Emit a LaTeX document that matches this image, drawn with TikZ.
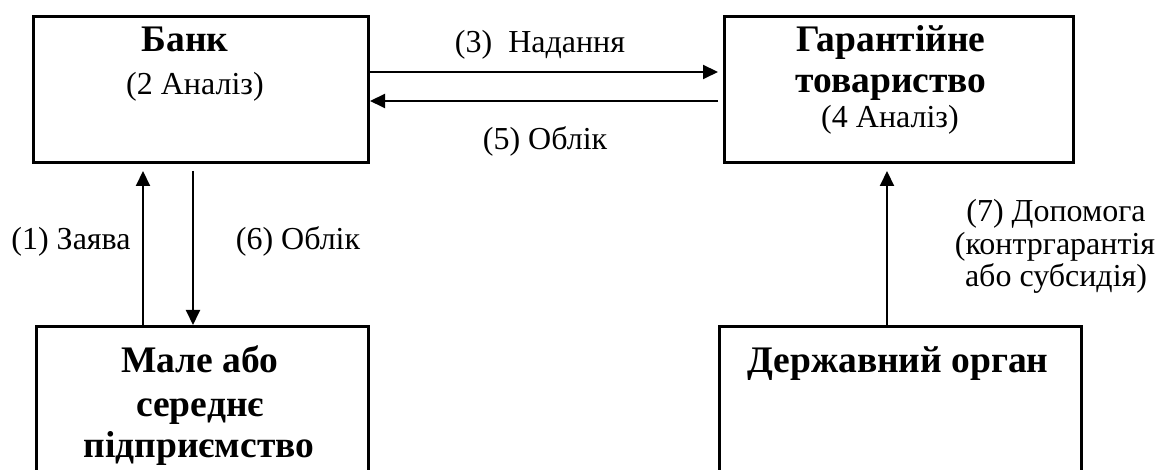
\documentclass[tikz,border=0pt]{standalone}
\usepackage{fontspec}
\setmainfont{Liberation Serif}
\usetikzlibrary{arrows.meta}
\tikzset{
  box/.style={draw, line width=1.2pt, rectangle, anchor=north west, inner sep=0pt},
  ttl/.style={anchor=base, inner sep=0pt, font=\fontsize{15}{17}\selectfont\bfseries},
  txt/.style={anchor=base, inner sep=0pt, font=\fontsize{12.8}{14}\selectfont},
  arr/.style={line width=0.8pt, -{Triangle[length=6pt,width=5.6pt]}},
}
\begin{document}
\begin{tikzpicture}[x=0.4pt,y=-0.4pt]
\useasboundingbox (0,0) rectangle (1160,470);
\clip (0,0) rectangle (1160,470);
% boxes
\node[box, minimum width=335*0.4pt, minimum height=146*0.4pt] (bank) at (32,15) {};
\node[box, minimum width=349*0.4pt, minimum height=146*0.4pt] (gar) at (723,15) {};
\node[box, minimum width=332*0.4pt, minimum height=170*0.4pt] (sme) at (35,325) {};
\node[box, minimum width=362*0.4pt, minimum height=170*0.4pt] (gov) at (718,325) {};
% texts
\node[ttl] (bankT) at (185,52) {Банк};
\node[txt] (bankA) at (195,95) {(2 Аналіз)};
\node[ttl] (garT1) at (891,52) {Гарантійне};
\node[ttl] (garT2) at (891,93) {товариство};
\node[txt] (garA) at (890,128) {(4 Аналіз)};
\node[ttl] (smeT1) at (200,373) {Мале або};
\node[ttl] (smeT2) at (200,417) {середнє};
\node[ttl] (smeT3) at (199,458) {підприємство};
\node[ttl] (govT) at (898,373) {Державний орган};
% connector coordinates
\coordinate (c1) at (143,0);
\coordinate (c6) at (193,0);
\coordinate (c7) at (887,0);
\coordinate (r3) at (0,72);
\coordinate (r5) at (0,101);
% arrows
\draw[arr] (sme.north -| c1) -- ([yshift=-7*0.4pt]bank.south -| c1);
\draw[arr] ([yshift=-7*0.4pt]bank.south -| c6) -- (sme.north -| c6);
\draw[arr] (bank.east |- r3) -- ([xshift=-5*0.4pt]gar.west |- r3);
\draw[arr] ([xshift=-5*0.4pt]gar.west |- r5) -- (bank.east |- r5);
\draw[arr] (gov.north -| c7) -- ([yshift=-7*0.4pt]gar.south -| c7);
% labels
\node[txt] (l3) at (540,53) {(3)\ \ Надання};
\node[txt] (l5) at (545,150) {(5) Облік};
\node[txt] (l1) at (71,250) {(1) Заява};
\node[txt] (l6) at (298,250) {(6) Облік};
\node[txt] (l7a) at (1056,222) {(7) Допомога};
\node[txt] (l7b) at (1055,255) {(контргарантія};
\node[txt] (l7c) at (1056,287) {або субсидія)};
\end{tikzpicture}
\end{document}
